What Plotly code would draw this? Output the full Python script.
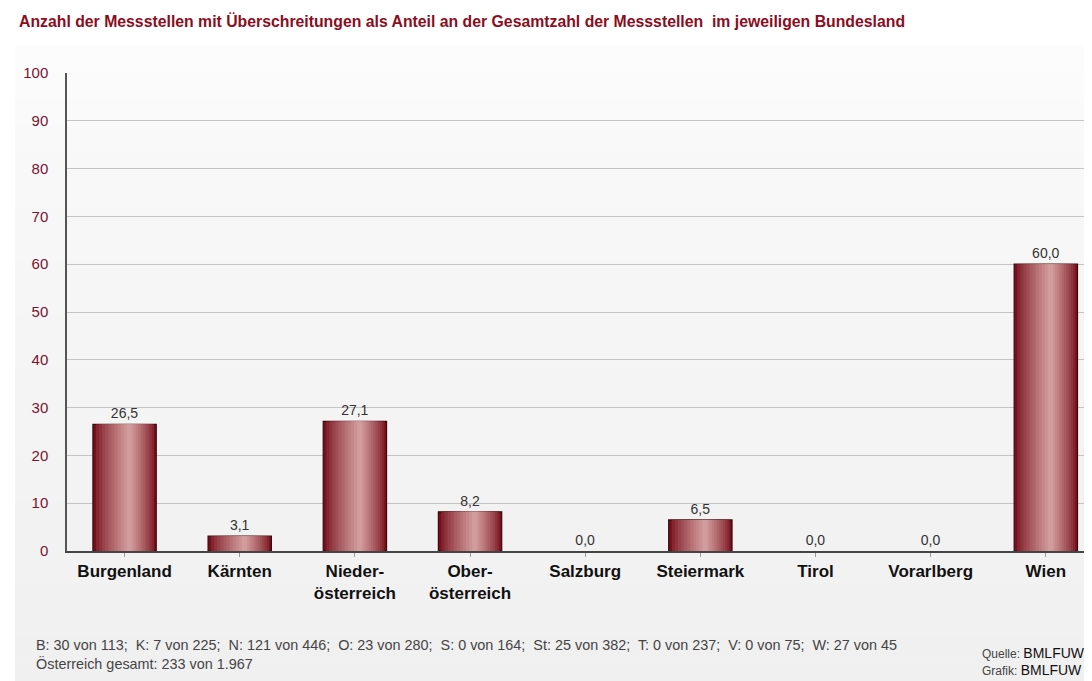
import plotly.graph_objects as go

categories = ["Burgenland", "Kärnten", "Nieder-<br>österreich", "Ober-<br>österreich",
              "Salzburg", "Steiermark", "Tirol", "Vorarlberg", "Wien"]
values = [26.5, 3.1, 27.1, 8.2, 0.0, 6.5, 0.0, 0.0, 60.0]
y_ticks = list(range(0, 101, 10))

title_text = ("Anzahl der Messstellen mit Überschreitungen als Anteil an der Gesamtzahl "
              "der Messstellen  im jeweiligen Bundesland")
footer_line1 = ("B: 30 von 113;  K: 7 von 225;  N: 121 von 446;  O: 23 von 280;  S: 0 von 164;  "
                "St: 25 von 382;  T: 0 von 237;  V: 0 von 75;  W: 27 von 45")
footer_line2 = "Österreich gesamt: 233 von 1.967"

# the page body adds an 8px margin; work in screen pixels and subtract it
OFF = 8
W, H = 1092 - OFF, 681 - OFF
L = 67 - OFF
T = 73 - OFF
ZERO = 551 - OFF
B = H - ZERO
plot_w = W - L
plot_h = H - T - B

def px_x(px):
    return (px - OFF - L) / plot_w

def px_y(py):
    return (ZERO - (py - OFF)) / plot_h

xs = list(range(len(categories)))

def lerp(c1, c2, t):
    return "#%02x%02x%02x" % tuple(int(round(a + (b - a) * t)) for a, b in zip(c1, c2))

dark = (0x78, 0x10, 0x1c)
light = (0xd2, 0x9c, 0x9c)

fig = go.Figure()
n_layers = 12
bar_w = 0.55
for i in range(n_layers):
    t = i / (n_layers - 1)
    w = bar_w * (1 - t * 0.92)
    shift = 0.04 * t
    color = lerp(dark, light, t ** 0.8)
    if i == 0:
        kw = dict(text=values, texttemplate="%{y:.1f}", textposition="outside",
                  textfont=dict(family="Arial", size=14, color="#333333"),
                  cliponaxis=False,
                  marker=dict(color=color,
                              line=dict(color="#3a0a10",
                                        width=[1.2 if v > 0 else 0 for v in values])))
    else:
        kw = dict(marker=dict(color=color, line=dict(width=0)), textposition="none")
    fig.add_trace(go.Bar(x=xs, y=values, width=w, offset=-w / 2 + shift,
                         hoverinfo="skip", showlegend=False, **kw))

# background: white title band, then a soft vertical fade to light grey
shapes = [dict(type="rect", xref="paper", yref="paper", layer="below",
               x0=px_x(0), x1=px_x(1100), y0=px_y(45), y1=px_y(0),
               fillcolor="#ffffff", line=dict(width=0))]
n_bands = 24
top, bottom = 45, 690
g_top, g_bot = (0xfc, 0xfc, 0xfc), (0xf0, 0xf0, 0xf0)
for k in range(n_bands):
    y0 = top + (bottom - top) * k / n_bands
    y1 = top + (bottom - top) * (k + 1) / n_bands
    c = lerp(g_top, g_bot, (k / (n_bands - 1)) ** 0.7)
    shapes.append(dict(type="rect", xref="paper", yref="paper", layer="below",
                       x0=px_x(15), x1=px_x(1100), y0=px_y(y1 + 0.5), y1=px_y(y0),
                       fillcolor=c, line=dict(width=0)))

annotations = [
    dict(text="<b>" + title_text + "</b>", xref="paper", yref="paper",
         x=px_x(17), y=px_y(21), xanchor="left", yanchor="middle", showarrow=False,
         font=dict(family="Arial", size=15.8, color="#8b0d1e")),
    dict(text=footer_line1 + "<br>" + footer_line2, xref="paper", yref="paper",
         x=px_x(34), y=px_y(654), xanchor="left", yanchor="middle", align="left",
         showarrow=False, font=dict(family="Arial", size=14.4, color="#444444")),
    dict(text="Quelle: <span style='font-size:14px;color:#111'>BMLFUW</span>",
         xref="paper", yref="paper", x=px_x(980), y=px_y(653), xanchor="left",
         yanchor="middle", showarrow=False,
         font=dict(family="Arial", size=12, color="#444444")),
    dict(text="Grafik: <span style='font-size:14px;color:#111'>BMLFUW</span>",
         xref="paper", yref="paper", x=px_x(980), y=px_y(670), xanchor="left",
         yanchor="middle", showarrow=False,
         font=dict(family="Arial", size=12, color="#444444")),
]

last_right = 8.5 - (67.5 + 9 * 115.1 - 1092) / 115.1

fig.update_layout(
    width=W, height=H,
    margin=dict(l=L, r=0, t=T, b=B, pad=0),
    paper_bgcolor="#ffffff",
    plot_bgcolor="rgba(0,0,0,0)",
    barmode="overlay",
    separators=",.",
    shapes=shapes,
    annotations=annotations,
    xaxis=dict(range=[-0.5, last_right], tickmode="array", tickvals=xs,
               ticktext=["<b>" + c + "</b>" for c in categories],
               tickfont=dict(family="Arial", size=17, color="#111111"),
               showline=True, linecolor="#444444", linewidth=1.5,
               ticks="outside", tickson="boundaries", ticklen=4, tickcolor="#999999",
               showgrid=False, zeroline=False, fixedrange=True),
    yaxis=dict(range=[0, 100], tickvals=y_ticks,
               tickfont=dict(family="Arial", size=15, color="#7b1230"),
               showline=True, linecolor="#555555", linewidth=1.5,
               ticks="outside", ticklen=0, ticklabelstandoff=14,
               showgrid=True, gridcolor="#c4c4c4", gridwidth=1,
               zeroline=False, fixedrange=True),
)

fig.write_html("out.html")
